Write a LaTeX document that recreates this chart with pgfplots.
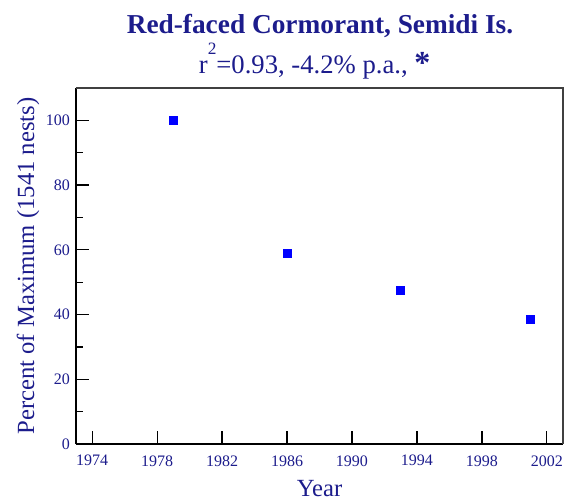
\documentclass[border=0pt]{standalone}
\usepackage{pgfplots}
\pgfplotsset{compat=1.18}
\usepackage{fontspec}
\setmainfont{Liberation Serif}
\definecolor{navy}{rgb}{0.11,0.11,0.55}
\definecolor{mblue}{rgb}{0,0,1}
\begin{document}
\begin{tikzpicture}
\useasboundingbox (0pt,0pt) rectangle (428.25pt,-375pt);
\node[anchor=base,text=navy,font=\bfseries\fontsize{20.5}{24}\selectfont,inner sep=0] at (240pt,-24.75pt) {Red-faced Cormorant, Semidi Is.};
\node[anchor=base,text=navy,font=\fontsize{20}{24}\selectfont,inner sep=0] at (236pt,-54.75pt) {r\raisebox{0.68em}{\fontsize{13}{14}\selectfont 2}=0.93, -4.2\% p.a., \textbf{\fontsize{24}{24}\selectfont *}};
\begin{axis}[
  at={(57pt,-333pt)}, anchor=south west,
  scale only axis, width=365.25pt, height=267pt,
  xmin=1973, xmax=2003, ymin=0, ymax=110,
  xtick={1974,1978,...,2002}, minor x tick num=3,
  ytick={0,20,...,100}, minor y tick num=1,
  xtick pos=bottom, ytick pos=left,
  tick align=inside,
  major tick length=9.75pt, minor tick length=5.25pt,
  tick style={black, line width=1pt},
  axis x line*=bottom, axis y line*=left,
  axis line style={black, line width=1.3pt, -},
  /pgf/number format/assume math mode=true,
  /pgf/number format/1000 sep={},
  ticklabel style={text=navy, font=\fontsize{12}{14}\selectfont},
  xticklabel style={yshift=-5pt},
  yticklabel style={xshift=-1pt},
  xlabel={Year}, ylabel={Percent of Maximum (1541 nests)},
  label style={text=navy, font=\fontsize{18.5}{21}\selectfont},
  xlabel style={yshift=-3.5pt},
  ylabel style={yshift=-2pt},
  clip=false,
]
\addplot[only marks, mark=square*, mark size=3pt, mark options={draw=mblue, fill=mblue}] coordinates {
(1979,100) (1986,59) (1993,47.5) (2001,38.5)
};
\draw[black!75, line width=1.3pt] (rel axis cs:0,1) -- (rel axis cs:1,1) -- (rel axis cs:1,0);
\end{axis}
\end{tikzpicture}
\end{document}
